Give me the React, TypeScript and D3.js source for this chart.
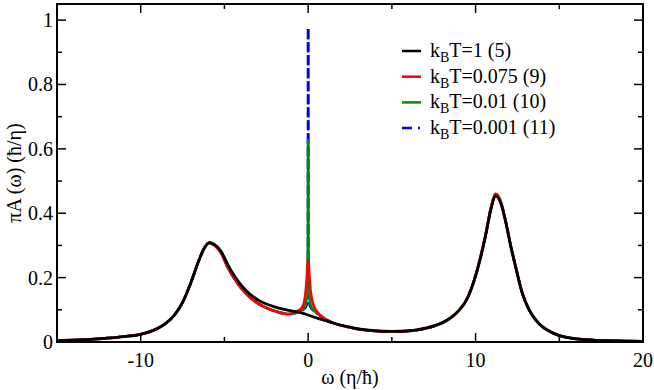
import { useEffect, useRef } from 'react';
import { select, scaleLinear, line, curveMonotoneX, range } from 'd3';

// spectral function: [omega, pi*A(omega)]
const kT1: [number, number][] = [
  [-15, 0.004], [-14, 0.006], [-13, 0.008], [-12, 0.012], [-11, 0.017], [-10, 0.024],
  [-9, 0.042], [-8.5, 0.058], [-8, 0.083], [-7.5, 0.123], [-7, 0.185], [-6.5, 0.257],
  [-6.2, 0.292], [-5.9, 0.309], [-5.6, 0.303], [-5.2, 0.282], [-4.8, 0.240], [-4.4, 0.205],
  [-4, 0.177], [-3.5, 0.150], [-3, 0.131], [-2.5, 0.118], [-2, 0.109], [-1.5, 0.102],
  [-1, 0.097], [-0.5, 0.092], [0, 0.084], [0.5, 0.075], [1, 0.067], [1.5, 0.059],
  [2, 0.052], [2.5, 0.046], [3, 0.041], [4, 0.035], [5, 0.033], [6, 0.035], [6.5, 0.038],
  [7, 0.043], [7.5, 0.050], [8, 0.060], [8.5, 0.075], [9, 0.098], [9.5, 0.135], [10, 0.205],
  [10.3, 0.262], [10.6, 0.330], [10.9, 0.408], [11.2, 0.453], [11.5, 0.432], [11.8, 0.372],
  [12.1, 0.298], [12.4, 0.232], [12.8, 0.150], [13.2, 0.100], [13.6, 0.068], [14, 0.047],
  [14.5, 0.031], [15, 0.020], [16, 0.010], [17, 0.006], [18, 0.004], [19, 0.003], [20, 0.002],
];

const kT0075: [number, number][] = [
  [-15, 0.004], [-14, 0.006], [-13, 0.008], [-12, 0.012], [-11, 0.017], [-10, 0.024],
  [-9, 0.042], [-8.5, 0.058], [-8, 0.083], [-7.5, 0.123], [-7, 0.185], [-6.5, 0.257],
  [-6.2, 0.292], [-5.9, 0.308], [-5.6, 0.301], [-5.2, 0.277], [-4.8, 0.232], [-4.4, 0.196],
  [-4, 0.167], [-3.5, 0.140], [-3, 0.120], [-2.5, 0.106], [-2, 0.096], [-1.5, 0.089],
  [-1.2, 0.087], [-0.9, 0.089], [-0.6, 0.097], [-0.4, 0.105], [-0.25, 0.122], [-0.15, 0.155],
  [-0.08, 0.200], [-0.04, 0.235], [0, 0.256], [0.04, 0.235], [0.08, 0.200], [0.15, 0.157],
  [0.25, 0.127], [0.4, 0.105], [0.6, 0.090], [0.9, 0.076], [1.2, 0.066], [1.6, 0.057],
  [2, 0.051], [2.5, 0.045], [3, 0.040], [4, 0.034], [5, 0.032], [6, 0.034], [6.5, 0.037],
  [7, 0.042], [7.5, 0.049], [8, 0.059], [8.5, 0.074], [9, 0.097], [9.5, 0.135], [10, 0.206],
  [10.3, 0.265], [10.6, 0.334], [10.9, 0.413], [11.2, 0.460], [11.5, 0.437], [11.8, 0.375],
  [12.1, 0.299], [12.4, 0.232], [12.8, 0.150], [13.2, 0.100], [13.6, 0.068], [14, 0.047],
  [14.5, 0.031], [15, 0.020], [16, 0.010], [17, 0.006], [18, 0.004], [19, 0.003], [20, 0.002],
];

const kT001: [number, number][] = [
  [-15, 0.004], [-14, 0.006], [-13, 0.008], [-12, 0.012], [-11, 0.017], [-10, 0.024],
  [-9, 0.042], [-8.5, 0.058], [-8, 0.083], [-7.5, 0.123], [-7, 0.185], [-6.5, 0.257],
  [-6.2, 0.292], [-5.9, 0.308], [-5.6, 0.301], [-5.2, 0.277], [-4.8, 0.232], [-4.4, 0.196],
  [-4, 0.167], [-3.5, 0.140], [-3, 0.120], [-2.5, 0.106], [-2, 0.096], [-1.5, 0.089],
  [-1.2, 0.087], [-0.9, 0.088], [-0.6, 0.094], [-0.4, 0.099], [-0.25, 0.106], [-0.15, 0.116],
  [-0.08, 0.140], [-0.04, 0.185], [-0.02, 0.260], [-0.01, 0.360], [0, 0.630], [0.01, 0.360],
  [0.02, 0.260], [0.04, 0.185], [0.08, 0.140], [0.15, 0.116], [0.25, 0.104], [0.4, 0.095],
  [0.6, 0.087], [0.9, 0.075], [1.2, 0.066], [1.6, 0.057], [2, 0.051], [2.5, 0.045],
  [3, 0.040], [4, 0.034], [5, 0.032], [6, 0.034], [6.5, 0.037], [7, 0.042], [7.5, 0.049],
  [8, 0.059], [8.5, 0.074], [9, 0.097], [9.5, 0.135], [10, 0.206], [10.3, 0.265],
  [10.6, 0.334], [10.9, 0.412], [11.2, 0.459], [11.5, 0.436], [11.8, 0.375], [12.1, 0.299],
  [12.4, 0.232], [12.8, 0.150], [13.2, 0.100], [13.6, 0.068], [14, 0.047], [14.5, 0.031],
  [15, 0.020], [16, 0.010], [17, 0.006], [18, 0.004], [19, 0.003], [20, 0.002],
];

const kT0001: [number, number][] = [
  [-15, 0.004], [-14, 0.006], [-13, 0.008], [-12, 0.012], [-11, 0.017], [-10, 0.024],
  [-9, 0.042], [-8.5, 0.058], [-8, 0.083], [-7.5, 0.123], [-7, 0.185], [-6.5, 0.257],
  [-6.2, 0.292], [-5.9, 0.308], [-5.6, 0.301], [-5.2, 0.277], [-4.8, 0.232], [-4.4, 0.196],
  [-4, 0.167], [-3.5, 0.140], [-3, 0.120], [-2.5, 0.106], [-2, 0.096], [-1.5, 0.089],
  [-1.2, 0.087], [-0.9, 0.088], [-0.6, 0.093], [-0.4, 0.097], [-0.25, 0.102], [-0.15, 0.108],
  [-0.08, 0.118], [-0.04, 0.135], [-0.02, 0.170], [-0.01, 0.240], [-0.004, 0.420], [0, 0.972],
  [0.004, 0.420], [0.01, 0.240], [0.02, 0.170], [0.04, 0.135], [0.08, 0.118], [0.15, 0.108],
  [0.25, 0.101], [0.4, 0.094], [0.6, 0.086], [0.9, 0.075], [1.2, 0.066], [1.6, 0.057],
  [2, 0.051], [2.5, 0.045], [3, 0.040], [4, 0.034], [5, 0.032], [6, 0.034], [6.5, 0.037],
  [7, 0.042], [7.5, 0.049], [8, 0.059], [8.5, 0.074], [9, 0.097], [9.5, 0.135], [10, 0.206],
  [10.3, 0.265], [10.6, 0.334], [10.9, 0.412], [11.2, 0.459], [11.5, 0.436], [11.8, 0.375],
  [12.1, 0.299], [12.4, 0.232], [12.8, 0.150], [13.2, 0.100], [13.6, 0.068], [14, 0.047],
  [14.5, 0.031], [15, 0.020], [16, 0.010], [17, 0.006], [18, 0.004], [19, 0.003], [20, 0.002],
];

const xMajorTicks = [-10, 0, 10, 20];
const xMinorTicks = [-5, 5, 15];
const yMajorTicks = [0, 0.2, 0.4, 0.6, 0.8, 1];
const yTickLabels = ['0', '0.2', '0.4', '0.6', '0.8', '1'];

// legend entries
const legendTemps = ['1 (5)', '0.075 (9)', '0.01 (10)', '0.001 (11)'];
const legendColors = ['#000000', '#ff0000', '#008b00', '#0000ff'];

function App() {
  const svgRef = useRef<SVGSVGElement>(null);
  const width = 654;
  const height = 390;
  const margin = { top: 4, bottom: 48, left: 57, right: 11 };
  const font = 'Liberation Serif, Times New Roman, DejaVu Serif, serif';

  useEffect(() => {
    const svg = select(svgRef.current);
    svg.selectAll('*').remove();
    svg.style('font-family', font);

    const x = scaleLinear().domain([-15, 20]).range([margin.left, width - margin.right]);
    const y = scaleLinear().domain([0, 1.05]).range([height - margin.bottom, margin.top]);

    const path = line<[number, number]>()
      .x(d => x(d[0]))
      .y(d => y(d[1]))
      .curve(curveMonotoneX);

    const g = svg.append('g');

    // draw a curve as two halves that both start at the central peak,
    // so a dashed spike keeps its gaps on the way up and down
    const drawSeries = (data: [number, number][], color: string, w: number, dash: string | null) => {
      const left = data.filter(d => d[0] <= 0).reverse();
      const right = data.filter(d => d[0] >= 0);
      [left, right].forEach(part => {
        g.append('path')
          .attr('d', path.curve(curveMonotoneX)(part))
          .attr('fill', 'none')
          .attr('stroke', color)
          .attr('stroke-width', w)
          .attr('stroke-linejoin', 'round')
          .attr('stroke-dasharray', dash);
      });
    };

    // lowest temperature first so black sits on top
    drawSeries(kT0001, legendColors[3], 2.6, '10 3');
    drawSeries(kT001, legendColors[2], 2.6, null);
    drawSeries(kT0075, legendColors[1], 2.6, null);
    drawSeries(kT1, legendColors[0], 2.8, null);

    // frame
    const x0 = x(-15), x1 = x(20), y0 = y(0), y1 = y(1.05);
    g.append('rect')
      .attr('x', x0).attr('y', y1)
      .attr('width', x1 - x0).attr('height', y0 - y1)
      .attr('fill', 'none').attr('stroke', 'black').attr('stroke-width', 2);

    // ticks point inward, on all four sides
    const ticks = g.append('g').attr('stroke', 'black').attr('stroke-width', 1.5);
    const major = 9, minor = 5;
    xMajorTicks.concat(xMinorTicks).forEach(t => {
      const len = xMajorTicks.includes(t) ? major : minor;
      ticks.append('line').attr('x1', x(t)).attr('x2', x(t)).attr('y1', y0).attr('y2', y0 - len);
      ticks.append('line').attr('x1', x(t)).attr('x2', x(t)).attr('y1', y1).attr('y2', y1 + len);
    });
    range(0, 11).forEach(i => {
      const t = i / 10;
      const len = i % 2 === 0 ? major : minor;
      ticks.append('line').attr('x1', x0).attr('x2', x0 + len).attr('y1', y(t)).attr('y2', y(t));
      ticks.append('line').attr('x1', x1).attr('x2', x1 - len).attr('y1', y(t)).attr('y2', y(t));
    });

    // tick labels
    xMajorTicks.forEach(t => {
      g.append('text')
        .attr('x', x(t)).attr('y', y0 + 25)
        .attr('text-anchor', 'middle')
        .attr('font-size', 20)
        .text(t);
    });
    yMajorTicks.forEach((t, i) => {
      g.append('text')
        .attr('x', x0 - 4).attr('y', y(t) + 7)
        .attr('text-anchor', 'end')
        .attr('font-size', 20)
        .text(yTickLabels[i]);
    });

    // axis titles
    g.append('text')
      .attr('x', (x0 + x1) / 2).attr('y', 384)
      .attr('text-anchor', 'middle')
      .attr('font-size', 20)
      .text('ω (η/ħ)');
    g.append('text')
      .attr('transform', `translate(21, ${(y0 + y1) / 2}) rotate(-90)`)
      .attr('text-anchor', 'middle')
      .attr('font-size', 20)
      .text('πA (ω) (ħ/η)');

    // legend
    const legend = g.append('g');
    legendTemps.forEach((t, i) => {
      const ly = 51 + i * 25.7;
      legend.append('line')
        .attr('x1', 402).attr('x2', 421).attr('y1', ly).attr('y2', ly)
        .attr('stroke', legendColors[i]).attr('stroke-width', 2.5)
        .attr('stroke-dasharray', i === 3 ? '10 6 2 6' : null);
      const txt = legend.append('text')
        .attr('x', 430).attr('y', ly + 6)
        .attr('font-size', 20);
      txt.append('tspan').text('k');
      txt.append('tspan').attr('font-size', 14).attr('dy', 5).text('B');
      txt.append('tspan').attr('dy', -5).text('T=' + t);
    });
  }, []);

  return (
    <svg
      ref={svgRef}
      width={width}
      height={height}
      style={{ position: 'absolute', left: 0, top: 0, background: 'white' }}
    />
  );
}

export default App;
